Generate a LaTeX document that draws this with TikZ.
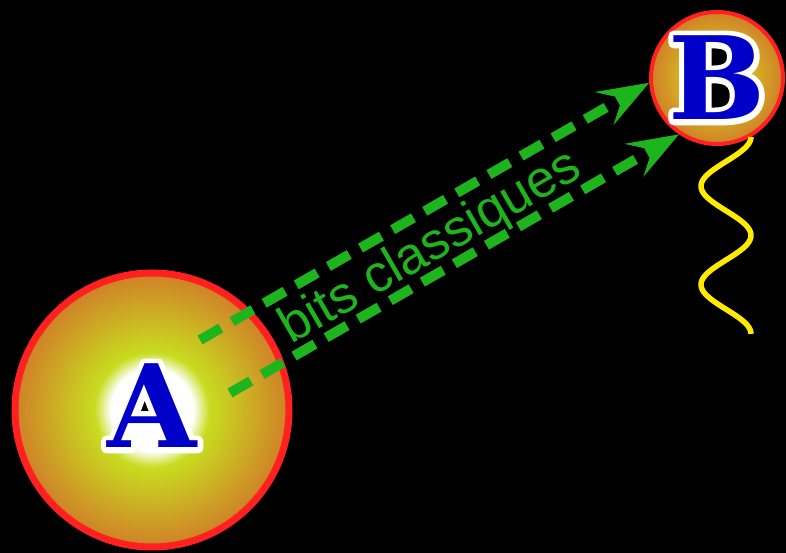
\documentclass[tikz,border=0pt]{standalone}
\usepackage{fontspec}
\setmainfont{Liberation Sans}
\newfontfamily\lettrefont{DejaVu Serif}
\usetikzlibrary{arrows.meta,positioning}

\definecolor{vertfleche}{RGB}{30,180,30}
\definecolor{orangebord}{RGB}{208,128,40}
\definecolor{jaunevert}{RGB}{200,220,32}
\definecolor{jauneB}{RGB}{216,200,32}
\definecolor{rougebord}{RGB}{255,32,32}
\definecolor{bleulettre}{RGB}{0,0,200}
\definecolor{jauneonde}{RGB}{255,234,0}

\pgfdeclareradialshading{degradeA}{\pgfpoint{0bp}{0bp}}{color(0bp)=(white); color(7.5bp)=(white); color(10.5bp)=(jaunevert); color(25bp)=(orangebord); color(50bp)=(orangebord)}
\pgfdeclareradialshading{degradeB}{\pgfpoint{0bp}{0bp}}{color(0bp)=(jauneB); color(9bp)=(jauneB); color(25bp)=(orangebord); color(50bp)=(orangebord)}

% contour blanc des lettres (mode de rendu "stroke")
\newcommand{\bordblanc}[1]{\rlap{\special{pdf:code q 1 1 1 RG 1 1 1 rg 11 w 1 j 2 Tr}#1\special{pdf:code Q}}#1}

\tikzset{
  bulle/.style={circle, draw=rougebord, inner sep=0pt},
  lettre/.style={font=\lettrefont\bfseries\fontsize{115}{115}\selectfont, text=bleulettre, inner sep=0pt},
  trou/.style={fill=black, rounded corners=4pt},
  fleche/.style={draw=vertfleche, line width=10pt, dash pattern=on 24pt off 13pt,
    -{Stealth[length=52pt, width=38pt, inset=21pt, line width=0pt]}},
  texte/.style={font=\fontsize{52}{60}\selectfont, text=vertfleche, inner sep=0pt},
  onde/.style={draw=jauneonde, line width=5.5pt}
}

\begin{document}
\begin{tikzpicture}[x=1pt, y=1pt]

    % Fond
    \fill[black] (0,0) rectangle (786,553);
    \useasboundingbox (0,0) rectangle (786,553);

    % Bulles A et B
    \node[bulle, line width=7pt, minimum size=274pt, shading=degradeA] (bulleA) at (152,143) {};
    \node[bulle, line width=4pt, minimum size=132pt, shading=degradeB] (bulleB) at (717,475) {};

    % Trous noirs des lettres
    \fill[trou] ([shift={(-12,6)}]bulleB.center) rectangle ([shift={(16,36)}]bulleB.center);
    \fill[trou] ([shift={(-12,-37)}]bulleB.center) rectangle ([shift={(20,-4)}]bulleB.center);
    \fill[black] ([shift={(0,28)}]bulleA.center) -- ([shift={(-11,-1)}]bulleA.center)
        -- ([shift={(11,-1)}]bulleA.center) -- cycle;

    % Lettres
    \node[lettre] (lettreA) at ([yshift=4pt]bulleA.center) {\bordblanc{A}};
    \node[lettre] (lettreB) at (bulleB.center) {\bordblanc{B}};

    % Onde sous B
    \draw[onde, shift={(bulleB.300)}]
        plot[domain=0:720, samples=120, smooth] ({-25+25*cos(\x)}, {-0.2736*\x});

    % Fleches (bits classiques)
    \coordinate (departA1) at (200,213);
    \coordinate (departA2) at (230,160);
    \draw[fleche] (departA1) -- (bulleB.184);
    \draw[fleche] (departA2) -- (bulleB.236);

    % Etiquette
    \node[texte, rotate=30, anchor=base] (bits) at (438,293) {bits classiques};

\end{tikzpicture}
\end{document}
